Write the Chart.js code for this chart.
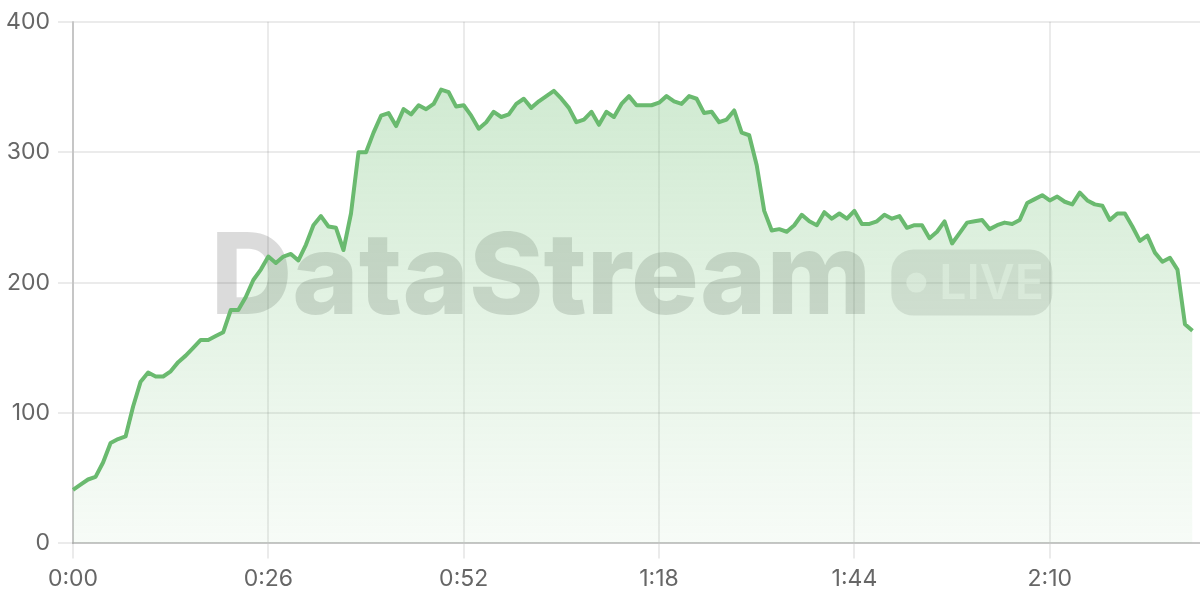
<!DOCTYPE html>
<html>
<head>
<meta charset="utf-8">
<style>
  html, body { margin: 0; padding: 0; background: #fff; }
  #wrap { width: 1200px; height: 600px; }
</style>
<script src="https://cdn.jsdelivr.net/npm/chart.js@4.4.1/dist/chart.umd.min.js"></script>
</head>
<body>
<div id="wrap"><canvas id="streamChart" width="1200" height="600"></canvas></div>
<script>
// ── Veri ────────────────────────────────────────────────────────────────
// one reading per second, axis runs 0:00 .. 2:30
const totalSeconds = 150;
const tickLabels = ['0:00', '0:26', '0:52', '1:18', '1:44', '2:10'];
const yTicks = [0, 100, 200, 300, 400];

const viewers = [
    41, 45, 49, 51, 62, 77, 80, 82, 105, 124,
    131, 128, 128, 132, 139, 144, 150, 156, 156, 159,
    162, 179, 179, 189, 202, 210, 220, 215, 220, 222,
    217, 229, 244, 251, 243, 242, 225, 253, 300, 300,
    315, 328, 330, 320, 333, 329, 336, 333, 337, 348,
    346, 335, 336, 328, 318, 323, 331, 327, 329, 337,
    341, 334, 339, 343, 347, 341, 334, 323, 325, 331,
    321, 331, 327, 337, 343, 336, 336, 336, 338, 343,
    339, 337, 343, 341, 330, 331, 323, 325, 332, 315,
    313, 290, 255, 240, 241, 239, 244, 252, 247, 244,
    254, 249, 253, 249, 255, 245, 245, 247, 252, 249,
    251, 242, 244, 244, 234, 239, 247, 230, 238, 246,
    247, 248, 241, 244, 246, 245, 248, 261, 264, 267,
    263, 266, 262, 260, 269, 263, 260, 259, 248, 253,
    253, 243, 232, 236, 223, 216, 219, 210, 168, 163
];

function fmtTime(s) {
    const m = Math.floor(s / 60);
    const r = s % 60;
    return m + ':' + (r < 10 ? '0' : '') + r;
}

const timeLabels = [];
for (let s = 0; s <= totalSeconds; s++) timeLabels.push(fmtTime(s));

// ── Görünüm ─────────────────────────────────────────────────────────────
const lineColor = '#6ABA6F';
const gridColor = 'rgba(0,0,0,0.08)';
const axisColor = 'rgba(0,0,0,0.16)';
const tickFont = { family: 'Inter', size: 23 };

function areaGradient(context) {
    const { ctx, chartArea } = context.chart;
    if (!chartArea) return 'rgba(102,187,106,0.2)';
    const g = ctx.createLinearGradient(0, chartArea.top, 0, chartArea.bottom);
    g.addColorStop(0, 'rgba(102,187,106,0.34)');
    g.addColorStop(1, 'rgba(102,187,106,0.05)');
    return g;
}

// watermark sits under the line, the fill tints it
const watermark = {
    id: 'watermark',
    beforeDatasetsDraw(chart) {
        const { ctx, chartArea: a } = chart;
        const cx = (a.left + a.right) / 2 - 5;
        const cy = (a.top + a.bottom) / 2;
        const pillW = 161, pillH = 66, gap = 20;

        ctx.save();
        ctx.font = '800 113px Inter';
        const tw = ctx.measureText('DataStream').width;
        const x0 = cx - (tw + gap + pillW) / 2;

        ctx.fillStyle = 'rgba(0,0,0,0.14)';
        ctx.textBaseline = 'alphabetic';
        ctx.fillText('DataStream', x0, cy + 31);

        const px = x0 + tw + gap;
        const py = cy - pillH / 2;
        ctx.fillStyle = 'rgba(0,0,0,0.10)';
        ctx.beginPath();
        ctx.roundRect(px, py, pillW, pillH, 22);
        ctx.fill();

        ctx.fillStyle = 'rgba(255,255,255,0.55)';
        ctx.beginPath();
        ctx.arc(px + 25, cy, 10, 0, Math.PI * 2);
        ctx.fill();

        ctx.font = '600 48px Inter';
        ctx.fillText('LIVE', px + 48, cy + 16);
        ctx.restore();
    }
};

new Chart(document.getElementById('streamChart'), {
    type: 'line',
    data: {
        labels: timeLabels,
        datasets: [{
            data: viewers,
            borderColor: lineColor,
            borderWidth: 4,
            borderJoinStyle: 'round',
            backgroundColor: areaGradient,
            fill: 'origin',
            tension: 0,
            pointRadius: 0
        }]
    },
    options: {
        responsive: false,
        animation: false,
        layout: { padding: { top: 0, right: 0, bottom: 0, left: 0 } },
        plugins: {
            legend: { display: false },
            tooltip: { enabled: false }
        },
        scales: {
            x: {
                type: 'category',
                grid: { color: gridColor, lineWidth: 2, tickLength: 15 },
                border: { color: axisColor, width: 2 },
                ticks: {
                    autoSkip: false,
                    maxRotation: 0,
                    minRotation: 0,
                    padding: 7,
                    color: '#666',
                    font: tickFont,
                    callback(value) {
                        const lbl = this.getLabelForValue(value);
                        return tickLabels.includes(lbl) ? lbl : null;
                    }
                }
            },
            y: {
                min: yTicks[0],
                max: yTicks[yTicks.length - 1],
                afterFit(scale) { scale.width = 73; },
                afterBuildTicks(scale) { scale.ticks = yTicks.map(v => ({ value: v })); },
                grid: { color: gridColor, lineWidth: 2, tickLength: 15 },
                border: { color: axisColor, width: 2 },
                ticks: {
                    padding: 8,
                    color: '#666',
                    font: tickFont
                }
            }
        }
    },
    plugins: [watermark]
});
</script>
</body>
</html>
